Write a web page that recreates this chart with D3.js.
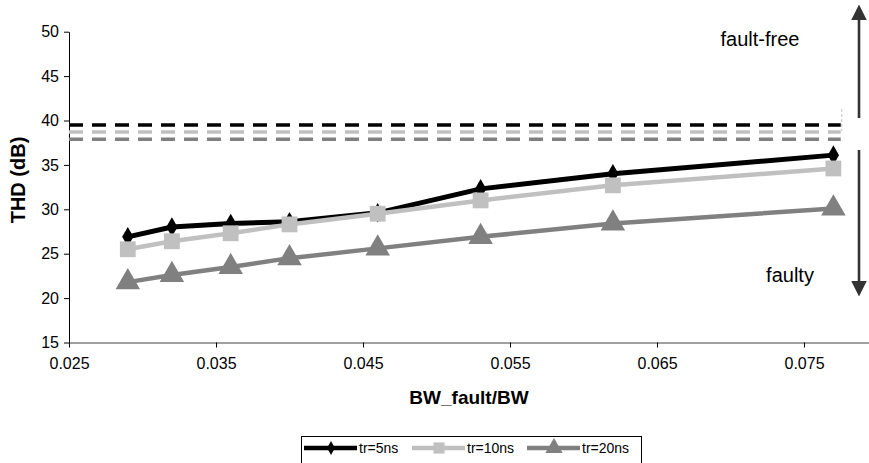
<!DOCTYPE html>
<html>
<head>
<meta charset="utf-8">
<script src="https://cdn.jsdelivr.net/npm/d3@7"></script>
<style>
  body { margin: 0; background: #fff; }
  svg { font-family: Arial, "Liberation Sans", sans-serif; }
</style>
</head>
<body>
<div id="chart"></div>
<script>
// data
var ratio = [0.029, 0.032, 0.036, 0.040, 0.046, 0.053, 0.062, 0.077];
var tr5 = [26.9, 28.0, 28.4, 28.6, 29.6, 32.3, 34.0, 36.1];
var tr10 = [25.5, 26.4, 27.3, 28.3, 29.5, 31.0, 32.7, 34.6];
var tr20 = [21.8, 22.6, 23.5, 24.5, 25.6, 26.9, 28.4, 30.1];
var seriesNames = ["tr=5ns", "tr=10ns", "tr=20ns"];
var limits = [39.5, 38.7, 37.9];   // fault-free thresholds per series
var limitEnd = 0.0775;
var xTicks = [0.025, 0.035, 0.045, 0.055, 0.065, 0.075];
var yTicks = [15, 20, 25, 30, 35, 40, 45, 50];

var width = 869, height = 463;
var plotLeft = 69, plotTop = 31.7, plotBottom = 342.5;

var colors = ["#000000", "#c0c0c0", "#808080"];
var widths = [5, 4.5, 4.5];
var shapes = [d3.symbolDiamond, d3.symbolSquare, d3.symbolTriangle];
var sizes = [110, 250, 260];

var svg = d3.select("#chart").append("svg")
    .attr("width", width)
    .attr("height", height);

var x = d3.scaleLinear().domain([0.025, 0.08]).range([plotLeft, plotLeft + 5.5 * 147]);
var y = d3.scaleLinear().domain([15, 50]).range([plotBottom, plotTop]);

// axes
var xAxisG = svg.append("g")
    .attr("transform", "translate(0," + plotBottom + ")")
    .call(d3.axisBottom(x).tickValues(xTicks).tickFormat(d3.format(".3f")).tickSize(5).tickSizeOuter(0).tickPadding(10));
xAxisG.select(".domain").attr("stroke", "#808080").attr("stroke-width", 1.5);

var yAxisG = svg.append("g")
    .attr("transform", "translate(" + plotLeft + ",0)")
    .call(d3.axisLeft(y).tickValues(yTicks).tickSize(5).tickSizeOuter(0).tickPadding(5));

[xAxisG, yAxisG].forEach(function(g) {
  g.attr("font-family", null).attr("font-size", null);
  g.selectAll("text").style("font-size", "16px").style("fill", "#000");
});

svg.append("text")
    .attr("x", 469).attr("y", 404)
    .attr("text-anchor", "middle")
    .style("font-size", "19px").style("font-weight", "bold")
    .text("BW_fault/BW");

svg.append("text")
    .attr("transform", "translate(25,180) rotate(-90)")
    .attr("text-anchor", "middle")
    .style("font-size", "20px").style("font-weight", "bold")
    .text("THD (dB)");

// threshold dashed lines
limits.forEach(function(v, i) {
  svg.append("line")
      .attr("x1", x(0.025)).attr("x2", x(limitEnd))
      .attr("y1", y(v)).attr("y2", y(v))
      .attr("stroke", colors[i])
      .attr("stroke-width", 3.5)
      .attr("stroke-dasharray", "14,9");
});
svg.append("line")
    .attr("x1", x(limitEnd) + 1).attr("x2", x(limitEnd) + 1)
    .attr("y1", y(41.3)).attr("y2", y(38.8))
    .attr("stroke", "#c0c0c0").attr("stroke-width", 1)
    .attr("stroke-dasharray", "3,2");

// series
var line = d3.line()
    .x(function(d) { return x(d[0]); })
    .y(function(d) { return y(d[1]); });

[tr5, tr10, tr20].forEach(function(vals, i) {
  var pts = ratio.map(function(r, j) { return [r, vals[j]]; });
  var g = svg.append("g");
  g.append("path")
      .attr("d", line(pts))
      .attr("fill", "none")
      .attr("stroke", colors[i])
      .attr("stroke-width", widths[i])
      .attr("stroke-linejoin", "round");
  g.selectAll("path.mk")
      .data(pts)
      .enter().append("path")
      .attr("class", "mk")
      .attr("transform", function(d) { return "translate(" + x(d[0]) + "," + y(d[1]) + ")"; })
      .attr("d", d3.symbol().type(shapes[i]).size(sizes[i]))
      .attr("fill", colors[i]);
});

// arrows + labels
var defs = svg.append("defs");
defs.append("marker")
    .attr("id", "head")
    .attr("viewBox", "0 0 10 10")
    .attr("refX", 2).attr("refY", 5)
    .attr("markerWidth", 6).attr("markerHeight", 6)
    .attr("markerUnits", "strokeWidth")
    .attr("orient", "auto")
    .append("path")
    .attr("d", "M0,0 L10,5 L0,10 z")
    .attr("fill", "#333");

svg.append("line")
    .attr("x1", 859).attr("x2", 859)
    .attr("y1", 118).attr("y2", 17)
    .attr("stroke", "#333").attr("stroke-width", 2.6)
    .attr("marker-end", "url(#head)");
svg.append("line")
    .attr("x1", 859).attr("x2", 859)
    .attr("y1", 150).attr("y2", 284)
    .attr("stroke", "#333").attr("stroke-width", 2.6)
    .attr("marker-end", "url(#head)");

svg.append("text")
    .attr("x", 760).attr("y", 46)
    .attr("text-anchor", "middle")
    .style("font-size", "20px")
    .text("fault-free");
svg.append("text")
    .attr("x", 790).attr("y", 282)
    .attr("text-anchor", "middle")
    .style("font-size", "20px")
    .text("faulty");

// legend
var legend = svg.append("g");
legend.append("rect")
    .attr("x", 301.5).attr("y", 436.5)
    .attr("width", 340).attr("height", 30)
    .attr("fill", "#fff").attr("stroke", "#000").attr("stroke-width", 1);

var legX = [304, 412, 527];
seriesNames.forEach(function(name, i) {
  var gy = 448;
  legend.append("line")
      .attr("x1", legX[i]).attr("x2", legX[i] + 53)
      .attr("y1", gy).attr("y2", gy)
      .attr("stroke", colors[i]).attr("stroke-width", 4.5);
  legend.append("path")
      .attr("transform", "translate(" + (legX[i] + 27) + "," + gy + ")")
      .attr("d", d3.symbol().type(shapes[i]).size(sizes[i] * 0.5))
      .attr("fill", colors[i]);
  legend.append("text")
      .attr("x", legX[i] + 55).attr("y", gy + 5)
      .style("font-size", "14px")
      .text(name);
});
</script>
</body>
</html>
